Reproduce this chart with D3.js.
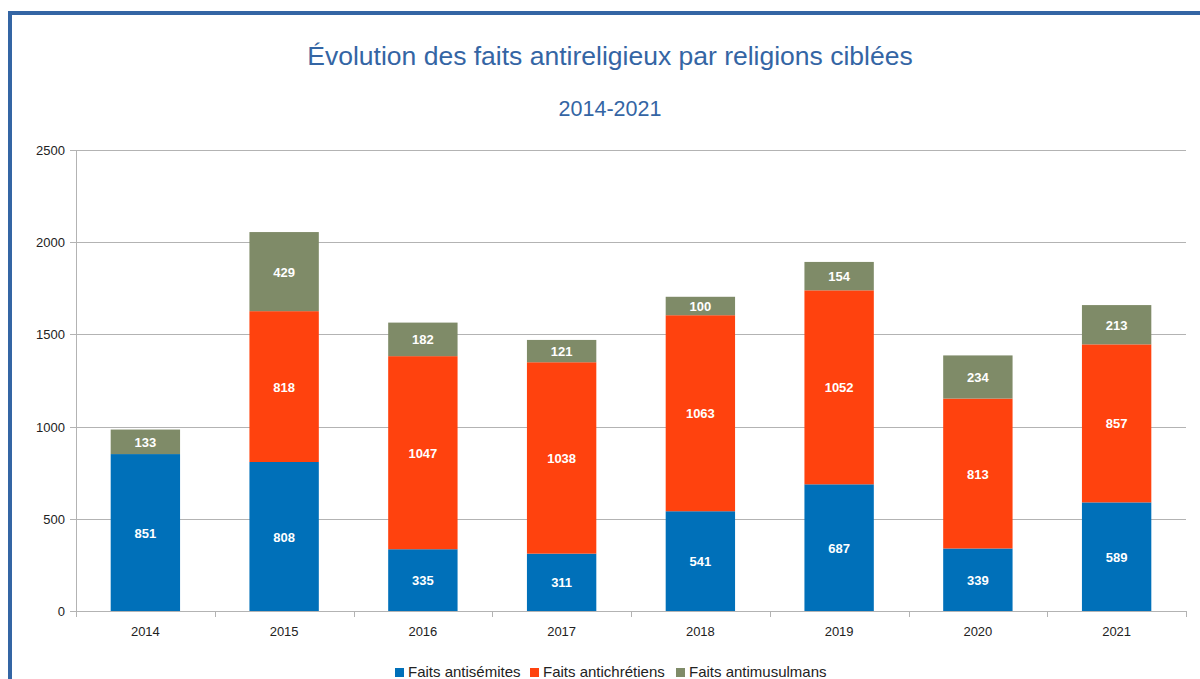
<!DOCTYPE html>
<html><head><meta charset="utf-8">
<script src="https://cdn.jsdelivr.net/npm/d3@7"></script>
<style>body{margin:0;background:#fff;font-family:"Liberation Sans",Arial,sans-serif}</style>
</head><body><svg id="c" width="1200" height="679"></svg>
<script>
const years = ["2014","2015","2016","2017","2018","2019","2020","2021"];
const antisemites = [851,808,335,311,541,687,339,589];
const antichretiens = [0,818,1047,1038,1063,1052,813,857];
const antimusulmans = [133,429,182,121,100,154,234,213];
const seriesNames = ["Faits antisémites","Faits antichrétiens","Faits antimusulmans"];
const colors = ["#0070b9","#ff420e","#7f8b68"];
const yTicks = [0,500,1000,1500,2000,2500];

(function(){
const svg = d3.select("#c");
svg.append("path").attr("d","M10,679 L10,13 L1200,13").attr("fill","none").attr("stroke","#3465a4").attr("stroke-width",4);

svg.append("text").attr("x",610).attr("y",65).attr("text-anchor","middle").attr("font-size",26.5).attr("fill","#3465a4").text("Évolution des faits antireligieux par religions ciblées");
svg.append("text").attr("x",610).attr("y",116).attr("text-anchor","middle").attr("font-size",21.5).attr("fill","#3465a4").text("2014-2021");

const pl=76,pr=1186,pt=150,pb=611;
const x=d3.scaleBand().domain(years).range([pl,pr]).paddingInner(0.5).paddingOuter(0.25);
const y=d3.scaleLinear().domain([0,2500]).range([pb,pt]);

svg.append("g").selectAll("line").data(yTicks).join("line")
 .attr("x1",pl-6).attr("x2",pr).attr("y1",d=>Math.round(y(d))+0.5).attr("y2",d=>Math.round(y(d))+0.5)
 .attr("stroke","#b3b3b3").attr("stroke-width",1);
svg.append("line").attr("x1",pl+0.5).attr("x2",pl+0.5).attr("y1",pt).attr("y2",pb+6).attr("stroke","#b3b3b3");
const bounds=d3.range(years.length+1).map(i=>pl+i*(pr-pl)/years.length);
svg.append("g").selectAll("line").data(bounds).join("line")
 .attr("x1",d=>Math.round(d)+0.5).attr("x2",d=>Math.round(d)+0.5).attr("y1",pb).attr("y2",pb+6).attr("stroke","#b3b3b3");
svg.append("g").selectAll("text").data(yTicks).join("text")
 .attr("x",pl-11).attr("y",d=>y(d)+5).attr("text-anchor","end").attr("font-size",13).attr("fill","#222").text(d=>d);
svg.append("g").selectAll("text").data(years).join("text")
 .attr("x",d=>x(d)+x.bandwidth()/2).attr("y",pb+25).attr("text-anchor","middle").attr("font-size",13).attr("fill","#222").text(d=>d);

const rows=years.map((yr,i)=>({year:yr,s0:antisemites[i],s1:antichretiens[i],s2:antimusulmans[i]}));
const stack=d3.stack().keys(["s0","s1","s2"])(rows);
stack.forEach((layer,k)=>{
  const g=svg.append("g");
  g.selectAll("rect").data(layer).join("rect")
   .attr("x",d=>x(d.data.year)).attr("width",x.bandwidth())
   .attr("y",d=>y(d[1])).attr("height",d=>y(d[0])-y(d[1])).attr("fill",colors[k]);
  g.selectAll("text").data(layer.filter(d=>d[1]-d[0]>0)).join("text")
   .attr("x",d=>x(d.data.year)+x.bandwidth()/2).attr("y",d=>(y(d[0])+y(d[1]))/2+5)
   .attr("text-anchor","middle").attr("font-size",13).attr("font-weight","bold").attr("fill","#fff")
   .text(d=>d[1]-d[0]);
});

const lg=svg.append("g");
const lx=[395,530,676];
seriesNames.forEach((n,i)=>{
  lg.append("rect").attr("x",lx[i]).attr("y",668).attr("width",9).attr("height",9).attr("fill",colors[i]);
  lg.append("text").attr("x",lx[i]+13).attr("y",677).attr("font-size",15).attr("fill","#222").text(n);
});
})();
</script></body></html>
